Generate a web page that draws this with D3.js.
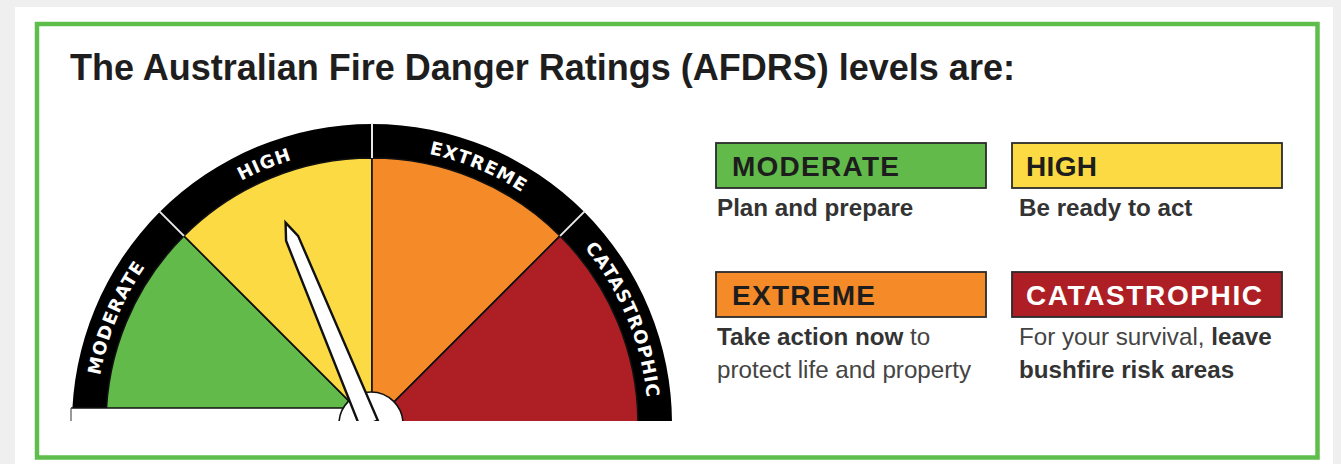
<!DOCTYPE html>
<html>
<head>
<meta charset="utf-8">
<script src="https://cdn.jsdelivr.net/npm/d3@7"></script>
<style>
  html, body { margin: 0; padding: 0; background: #efefef; }
  svg { display: block; }
</style>
</head>
<body>
<svg id="chart" width="1341" height="464"></svg>
<script>
// ---------- data ----------
const title = "The Australian Fire Danger Ratings (AFDRS) levels are:";
const levels = ["MODERATE", "HIGH", "EXTREME", "CATASTROPHIC"];
const levelIndex = [0, 1, 2, 3];
const needleValue = 1.5;               // needle points to the middle of HIGH
const descLine1 = [
  [{t: "Plan and prepare", b: true}],
  [{t: "Be ready to act", b: true}],
  [{t: "Take action now", b: true}, {t: " to", b: false}],
  [{t: "For your survival, ", b: false}, {t: "leave", b: true}]
];
const descLine2 = [
  [],
  [],
  [{t: "protect life and property", b: false}],
  [{t: "bushfire risk areas", b: true}]
];

// ---------- styles ----------
const fillColors = ["#61ba4a", "#fbda43", "#f58a29", "#ad1f24"];
const boxTextColors = ["#1d1d1d", "#1d1d1d", "#1d1d1d", "#ffffff"];

const svg = d3.select("#chart");

// page panel and frame
svg.append("rect").attr("x", 15).attr("y", 7).attr("width", 1318).attr("height", 457).attr("fill", "#ffffff");
svg.append("rect").attr("x", 37).attr("y", 24).attr("width", 1280.5).attr("height", 433.5)
  .attr("fill", "none").attr("stroke", "#5fbe4b").attr("stroke-width", 4.5);

svg.append("text").attr("x", 70).attr("y", 80)
  .attr("font-family", "'Liberation Sans', Arial, sans-serif")
  .attr("font-weight", "bold").attr("font-size", 36).attr("fill", "#1e1e1e")
  .text(title);

// ---------- gauge ----------
const cx = 372, cy = 424, rOuter = 300, rInner = 266;
const angle = d3.scaleLinear().domain([0, levels.length]).range([-Math.PI / 2, Math.PI / 2]);

const defs = svg.append("defs");
defs.append("clipPath").attr("id", "gclip")
  .append("rect").attr("x", 0).attr("y", 0).attr("width", 800).attr("height", 421);

const g = svg.append("g").attr("clip-path", "url(#gclip)");
const gc = g.append("g").attr("transform", `translate(${cx},${cy})`);

// black band
gc.append("path")
  .attr("d", d3.arc()({innerRadius: rInner - 1, outerRadius: rOuter, startAngle: angle(0), endAngle: angle(levels.length)}))
  .attr("fill", "#000");

// coloured wedges
const wedge = d3.arc().innerRadius(0).outerRadius(rInner);
gc.selectAll("path.wedge").data(levelIndex).enter().append("path")
  .attr("class", "wedge")
  .attr("d", i => wedge({startAngle: angle(i), endAngle: angle(i + 1)}))
  .attr("fill", i => fillColors[i])
  .attr("stroke", "#111").attr("stroke-width", 1.6).attr("stroke-linejoin", "round");

// white dividers across band
gc.selectAll("line.div").data(levelIndex.slice(1)).enter().append("line")
  .attr("x1", i => Math.sin(angle(i)) * rInner)
  .attr("y1", i => -Math.cos(angle(i)) * rInner)
  .attr("x2", i => Math.sin(angle(i)) * (rOuter + 1))
  .attr("y2", i => -Math.cos(angle(i)) * (rOuter + 1))
  .attr("stroke", "#e8e8e8").attr("stroke-width", 2);

// curved labels
const rText = 276;
levelIndex.forEach(i => {
  const a0 = angle(i) + 0.02, a1 = angle(i + 1) - 0.02;
  const x0 = Math.sin(a0) * rText, y0 = -Math.cos(a0) * rText;
  const x1 = Math.sin(a1) * rText, y1 = -Math.cos(a1) * rText;
  defs.append("path").attr("id", "lp" + i)
    .attr("d", `M${x0 + cx},${y0 + cy} A${rText},${rText} 0 0 1 ${x1 + cx},${y1 + cy}`);
});
g.selectAll("text.lab").data(levelIndex).enter().append("text")
  .attr("font-family", "'DejaVu Sans', sans-serif").attr("font-weight", "bold")
  .attr("font-size", 18).attr("letter-spacing", 1).attr("fill", "#fff")
  .append("textPath").attr("href", i => "#lp" + i)
  .attr("startOffset", "50%").attr("text-anchor", "middle")
  .text(i => levels[i]);

// white base strip under left side
g.append("rect").attr("x", 71).attr("y", 408).attr("width", 290).attr("height", 20)
  .attr("fill", "#fff");
g.append("line").attr("x1", 71).attr("x2", 361).attr("y1", 408).attr("y2", 408)
  .attr("stroke", "#111").attr("stroke-width", 1.6);
g.append("line").attr("x1", 71).attr("x2", 71).attr("y1", 408).attr("y2", 421)
  .attr("stroke", "#555").attr("stroke-width", 1.2);

// hub
g.append("circle").attr("cx", cx - 1).attr("cy", cy).attr("r", 32)
  .attr("fill", "#fff").attr("stroke", "#111").attr("stroke-width", 1.6);

// needle
const needleLen = 218;
const na = angle(needleValue) * 180 / Math.PI;
const needle = g.append("g").attr("transform", `translate(${cx - 3},${cy}) rotate(${na})`);
needle.append("path")
  .attr("d", `M0,${-needleLen} L6.5,${-needleLen + 17} L9.5,0 L-9.5,0 L-6.5,${-needleLen + 17} Z`)
  .attr("fill", "#fff").attr("stroke", "#111").attr("stroke-width", 2.4).attr("stroke-linejoin", "miter");

// ---------- legend ----------
const colX = [716, 1012], rowY = [143, 272];
const boxW = 270, boxH = 45;
const boxTextW = [167, 71, 143, 236];

const leg = svg.selectAll("g.leg").data(levelIndex).enter().append("g")
  .attr("transform", i => `translate(${colX[i % 2]},${rowY[Math.floor(i / 2)]})`);

leg.append("rect").attr("width", boxW).attr("height", boxH)
  .attr("fill", i => fillColors[i]).attr("stroke", "#2b2b2b").attr("stroke-width", 1.8);

leg.append("text").attr("x", i => i % 2 ? 14 : 16).attr("y", 33)
  .attr("font-family", "'Liberation Sans', Arial, sans-serif").attr("font-weight", "bold")
  .attr("font-size", 28).attr("fill", i => boxTextColors[i])
  .attr("textLength", i => boxTextW[i]).attr("lengthAdjust", "spacing")
  .text(i => levels[i]);

function addLine(sel, arr, y) {
  const t = sel.append("text").attr("x", i => i % 2 ? 7 : 1).attr("y", y)
    .attr("font-family", "'Liberation Sans', Arial, sans-serif").attr("font-size", 24.2);
  t.each(function(i) {
    const tt = d3.select(this);
    arr[i].forEach(p => {
      tt.append("tspan").attr("font-weight", p.b ? "bold" : "normal")
        .attr("fill", p.b ? "#333" : "#444").attr("xml:space", "preserve").text(p.t);
    });
  });
}
addLine(leg, descLine1, 73);
addLine(leg, descLine2, 106);
</script>
</body>
</html>
